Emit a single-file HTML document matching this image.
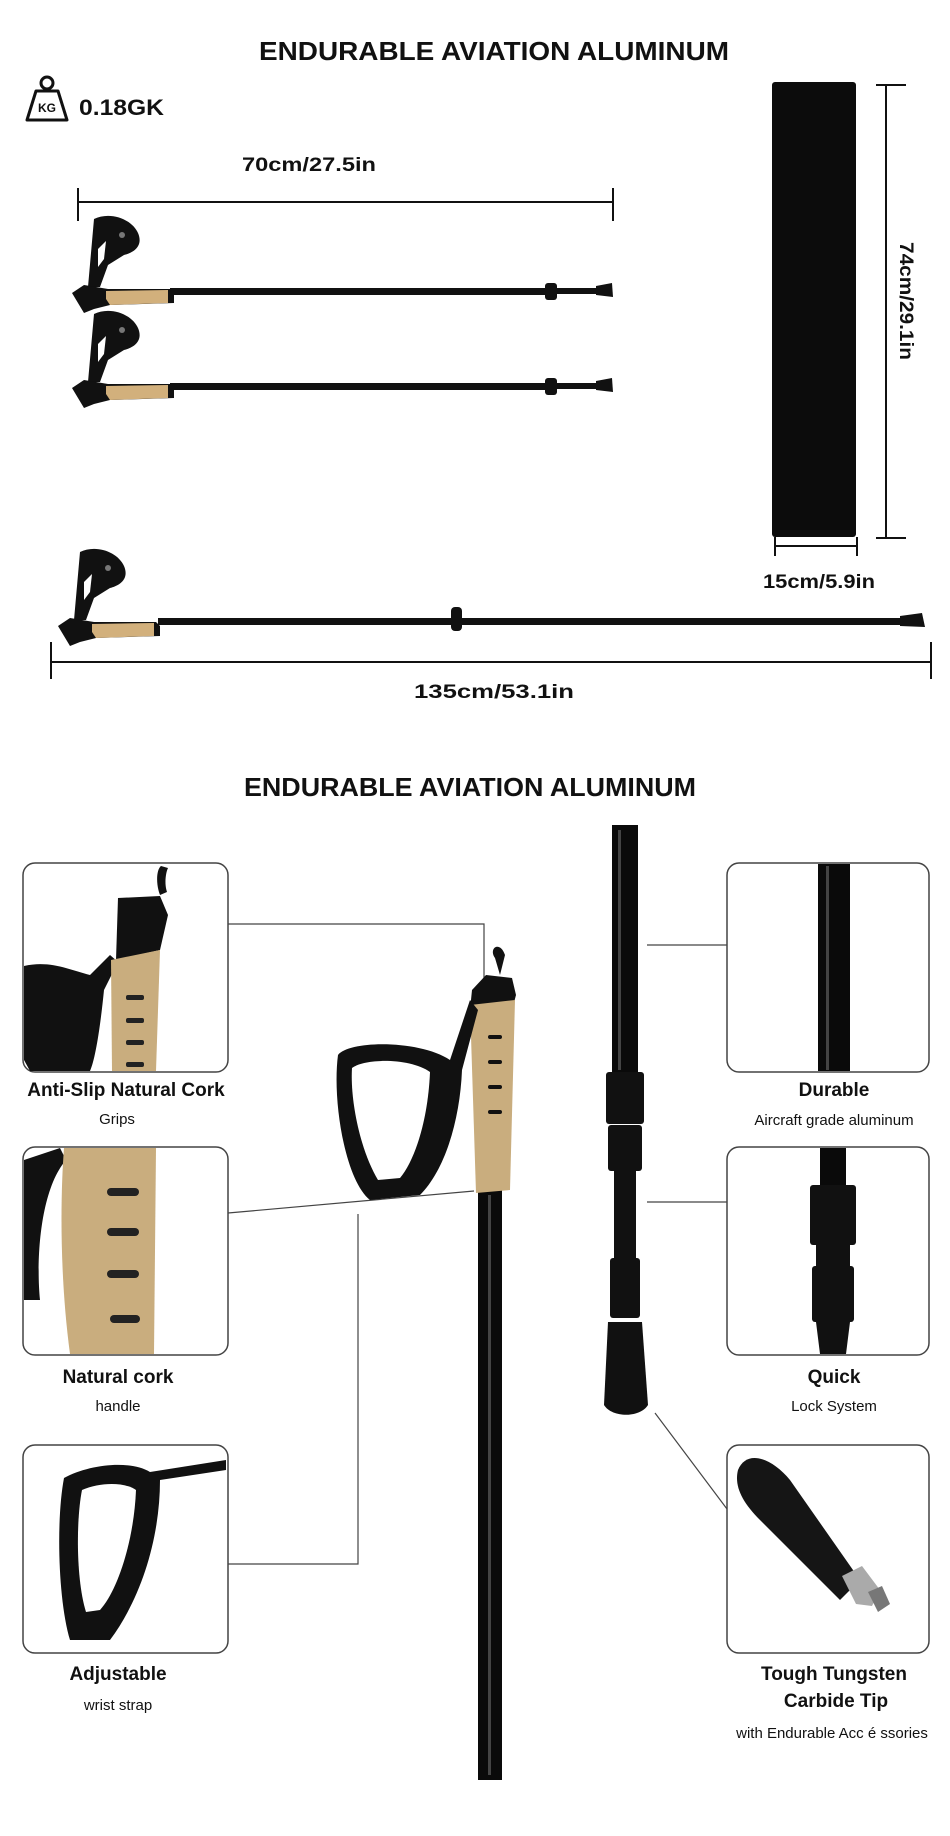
<!DOCTYPE html>
<html><head><meta charset="utf-8"><style>
html,body{margin:0;padding:0;background:#fff;}
svg{display:block;}
text{font-family:"Liberation Sans",sans-serif;fill:#111;}
</style></head><body>
<svg width="950" height="1836" viewBox="0 0 950 1836" xmlns="http://www.w3.org/2000/svg">
<defs>
<g id="grip">
  <!-- strap -->
  <path d="M14 0 C30 -8 52 0 58 14 C64 28 52 34 44 36 L28 46 L20 68 L8 68 Z" fill="#111"/>
  <path d="M18 30 L26 22 L24 40 L18 48 Z" fill="#fff"/>
  <circle cx="42" cy="16" r="3" fill="#777"/>
  <!-- handle -->
  <path d="M-8 74 L4 66 L28 70 L90 70 L94 74 L94 84 L30 86 L14 90 L4 94 Z" fill="#111"/>
  <path d="M26 72 L88 71 L88 84 L30 86 L26 80 Z" fill="#d2b07c"/>
</g>
</defs>

<!-- TOP SECTION -->
<text x="494" y="60" font-size="26" font-weight="bold" text-anchor="middle" textLength="470" lengthAdjust="spacingAndGlyphs">ENDURABLE AVIATION ALUMINUM</text>

<!-- kg icon -->
<g fill="none" stroke="#111" stroke-width="3">
  <circle cx="47" cy="83" r="6"/>
  <path d="M36 91 L58 91 L67 120 L27 120 Z" stroke-linejoin="round"/>
</g>
<text x="47" y="112" font-size="12" font-weight="bold" text-anchor="middle">KG</text>
<text x="79" y="115" font-size="22" font-weight="bold" textLength="85" lengthAdjust="spacingAndGlyphs">0.18GK</text>

<!-- 70cm dim -->
<text x="309" y="171" font-size="19" font-weight="bold" text-anchor="middle" textLength="134" lengthAdjust="spacingAndGlyphs">70cm/27.5in</text>
<g stroke="#111" stroke-width="2">
  <line x1="78" y1="202" x2="613" y2="202"/>
  <line x1="78" y1="188" x2="78" y2="221"/>
  <line x1="613" y1="188" x2="613" y2="221"/>
</g>

<!-- pole 1 -->
<use href="#grip" x="80" y="219"/>
<rect x="170" y="288" width="380" height="7" fill="#111"/>
<rect x="545" y="283" width="12" height="17" rx="3" fill="#111"/>
<rect x="550" y="288" width="50" height="6" fill="#111"/>
<path d="M596 286 L612 283 L613 297 L596 295 Z" fill="#111"/>

<!-- pole 2 -->
<use href="#grip" x="80" y="314"/>
<rect x="170" y="383" width="380" height="7" fill="#111"/>
<rect x="545" y="378" width="12" height="17" rx="3" fill="#111"/>
<rect x="550" y="383" width="50" height="6" fill="#111"/>
<path d="M596 381 L612 378 L613 392 L596 390 Z" fill="#111"/>

<!-- bag -->
<rect x="772" y="82" width="84" height="455" rx="3" fill="#0c0c0c"/>
<g stroke="#111" stroke-width="2">
  <line x1="886" y1="85" x2="886" y2="538"/>
  <line x1="876" y1="85" x2="906" y2="85"/>
  <line x1="876" y1="538" x2="906" y2="538"/>
  <line x1="775" y1="546" x2="857" y2="546"/>
  <line x1="775" y1="537" x2="775" y2="556"/>
  <line x1="857" y1="537" x2="857" y2="556"/>
</g>
<text transform="translate(900,301) rotate(90)" font-size="19" font-weight="bold" text-anchor="middle" textLength="118" lengthAdjust="spacingAndGlyphs">74cm/29.1in</text>
<text x="819" y="588" font-size="19" font-weight="bold" text-anchor="middle" textLength="112" lengthAdjust="spacingAndGlyphs">15cm/5.9in</text>

<!-- long pole -->
<use href="#grip" x="66" y="552" />
<rect x="158" y="618" width="760" height="7" fill="#111"/>
<rect x="451" y="607" width="11" height="24" rx="4" fill="#111"/>
<path d="M900 616 L922 613 L925 627 L900 626 Z" fill="#111"/>

<g stroke="#111" stroke-width="2">
  <line x1="51" y1="662" x2="931" y2="662"/>
  <line x1="51" y1="642" x2="51" y2="679"/>
  <line x1="931" y1="642" x2="931" y2="679"/>
</g>
<text x="494" y="698" font-size="19" font-weight="bold" text-anchor="middle" textLength="160" lengthAdjust="spacingAndGlyphs">135cm/53.1in</text>

<!-- BOTTOM SECTION -->
<text x="470" y="796" font-size="26" font-weight="bold" text-anchor="middle" textLength="452" lengthAdjust="spacingAndGlyphs">ENDURABLE AVIATION ALUMINUM</text>

<!-- connectors -->
<g stroke="#444" stroke-width="1.2" fill="none">
  <polyline points="228,924 484,924 484,983"/>
  <line x1="228" y1="1213" x2="474" y2="1191"/>
  <polyline points="228,1564 358,1564 358,1214"/>
  <line x1="647" y1="945" x2="727" y2="945"/>
  <line x1="647" y1="1202" x2="727" y2="1202"/>
  <line x1="655" y1="1413" x2="727" y2="1509"/>
</g>

<!-- center pole -->
<rect x="478" y="1190" width="24" height="590" fill="#0a0a0a"/>
<rect x="488" y="1195" width="3" height="580" fill="#444"/>
<path d="M495 958 C488 948 500 940 505 955 L500 975 Z" fill="#111"/>
<path d="M472 990 L486 975 L512 978 L516 995 L512 1010 L470 1010 Z" fill="#111"/>
<path d="M470 1005 L515 1000 L510 1190 L476 1193 Z" fill="#c9ad7e"/>
<g fill="#111"><rect x="488" y="1035" width="14" height="4" rx="2"/><rect x="488" y="1060" width="14" height="4" rx="2"/><rect x="488" y="1085" width="14" height="4" rx="2"/><rect x="488" y="1110" width="14" height="4" rx="2"/></g>
<path d="M338 1055 C350 1040 420 1040 450 1060 L470 1000 L478 1010 L462 1070 C460 1120 445 1170 420 1195 L370 1200 C345 1180 332 1100 338 1055 Z" fill="#111"/>
<path d="M352 1068 C365 1058 410 1058 430 1072 C428 1120 415 1160 400 1178 L378 1180 C360 1150 350 1100 352 1068 Z" fill="#fff"/>

<!-- right pole -->
<rect x="612" y="825" width="26" height="250" fill="#0a0a0a"/>
<rect x="618" y="830" width="3" height="240" fill="#444"/>
<rect x="606" y="1072" width="38" height="52" rx="3" fill="#111"/>
<rect x="608" y="1125" width="34" height="46" rx="3" fill="#111"/>
<rect x="614" y="1170" width="22" height="90" fill="#111"/>
<rect x="610" y="1258" width="30" height="60" rx="3" fill="#111"/>
<path d="M608 1322 L642 1322 L648 1405 C640 1418 612 1418 604 1405 Z" fill="#111"/>

<!-- LEFT BOXES -->
<g fill="#fff" stroke="#444" stroke-width="1.5">
  <rect x="23" y="863" width="205" height="209" rx="12"/>
  <rect x="23" y="1147" width="205" height="208" rx="12"/>
  <rect x="23" y="1445" width="205" height="208" rx="12"/>
  <rect x="727" y="863" width="202" height="209" rx="12"/>
  <rect x="727" y="1147" width="202" height="208" rx="12"/>
  <rect x="727" y="1445" width="202" height="208" rx="12"/>
</g>

<!-- box1 content -->
<path d="M24 966 C50 960 70 970 90 975 L110 955 L118 962 L104 990 C100 1030 95 1060 90 1071 L30 1071 L24 1060 Z" fill="#111"/>
<path d="M161 866 C156 870 156 885 160 895 L167 892 C164 883 166 872 168 868 Z" fill="#111"/>
<path d="M118 898 L160 896 L168 915 L160 950 L116 960 Z" fill="#111"/>
<path d="M111 960 L160 950 L156 1071 L112 1071 Z" fill="#c9ad7e"/>
<g fill="#222"><rect x="126" y="995" width="18" height="5" rx="2"/><rect x="126" y="1018" width="18" height="5" rx="2"/><rect x="126" y="1040" width="18" height="5" rx="2"/><rect x="126" y="1062" width="18" height="5" rx="2"/></g>

<!-- box2 content -->
<path d="M24 1160 L60 1148 L66 1160 C40 1190 36 1260 40 1300 L24 1300 Z" fill="#111"/>
<path d="M64 1148 L156 1148 L154 1354 L70 1354 C60 1280 60 1200 64 1148 Z" fill="#c9ad7e"/>
<g fill="#222"><rect x="107" y="1188" width="32" height="8" rx="4"/><rect x="107" y="1228" width="32" height="8" rx="4"/><rect x="107" y="1270" width="32" height="8" rx="4"/><rect x="110" y="1315" width="30" height="8" rx="4"/></g>

<!-- box3 content -->
<path d="M64 1478 C90 1464 130 1460 150 1472 L226 1460 L226 1470 L160 1480 C160 1540 140 1600 110 1640 L70 1640 C58 1600 56 1520 64 1478 Z" fill="#111"/>
<path d="M82 1490 C100 1482 125 1482 136 1490 C134 1540 118 1590 100 1610 L86 1612 C76 1580 76 1520 82 1490 Z" fill="#fff"/>

<!-- right box1 -->
<rect x="818" y="864" width="32" height="207" fill="#0a0a0a"/>
<rect x="826" y="866" width="3" height="204" fill="#444"/>
<!-- right box2 -->
<rect x="820" y="1148" width="26" height="40" fill="#0a0a0a"/>
<rect x="810" y="1185" width="46" height="60" rx="3" fill="#111"/>
<rect x="816" y="1245" width="34" height="22" fill="#111"/>
<rect x="812" y="1266" width="42" height="56" rx="3" fill="#111"/>
<path d="M816 1322 L850 1322 L846 1354 L820 1354 Z" fill="#111"/>
<!-- right box3 -->
<path d="M738 1470 C746 1450 770 1456 790 1480 L860 1580 L840 1600 L760 1520 C742 1502 734 1486 738 1470 Z" fill="#151515"/>
<path d="M842 1576 L862 1566 L880 1590 L872 1606 L856 1604 Z" fill="#aaa"/>
<path d="M868 1592 L882 1586 L890 1604 L878 1612 Z" fill="#777"/>

<!-- labels -->
<g font-weight="bold" text-anchor="middle" font-size="19">
  <text x="126" y="1096">Anti-Slip Natural Cork</text>
  <text x="118" y="1383">Natural cork</text>
  <text x="118" y="1680">Adjustable</text>
  <text x="834" y="1096">Durable</text>
  <text x="834" y="1383">Quick</text>
  <text x="834" y="1680">Tough Tungsten</text>
  <text x="836" y="1707">Carbide Tip</text>
</g>
<g text-anchor="middle" font-size="15">
  <text x="117" y="1124">Grips</text>
  <text x="118" y="1411">handle</text>
  <text x="118" y="1710">wrist strap</text>
  <text x="834" y="1125">Aircraft grade aluminum</text>
  <text x="834" y="1411">Lock System</text>
  <text x="832" y="1738">with Endurable Acc é ssories</text>
</g>
</svg>
</body></html>
